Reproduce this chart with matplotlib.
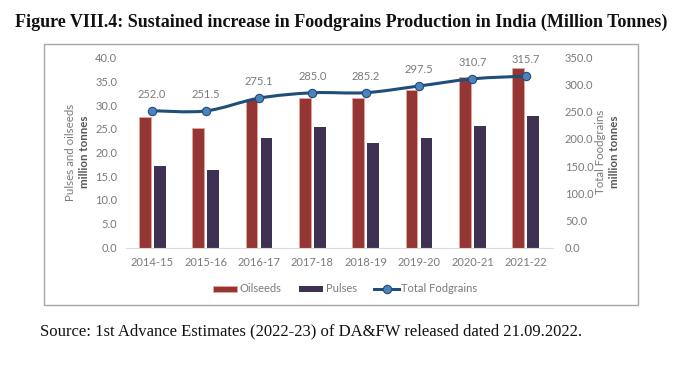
import matplotlib
matplotlib.use("Agg")
import matplotlib.pyplot as plt
import numpy as np
from matplotlib.path import Path
from matplotlib.patches import PathPatch, Rectangle
from matplotlib.lines import Line2D
from matplotlib.patches import Patch

# data
years = ["2014-15", "2015-16", "2016-17", "2017-18", "2018-19", "2019-20", "2020-21", "2021-22"]
oilseeds = [27.5, 25.2, 31.3, 31.5, 31.5, 33.2, 35.9, 37.7]
pulses = [17.2, 16.3, 23.1, 25.4, 22.1, 23.0, 25.5, 27.7]
foodgrains = [252.0, 251.5, 275.1, 285.0, 285.2, 297.5, 310.7, 315.7]
left_ticks = [0, 5, 10, 15, 20, 25, 30, 35, 40]
right_ticks = [0, 50, 100, 150, 200, 250, 300, 350]

RED = "#943634"
RED_EDGE = "#E8A49A"
PURPLE = "#3F3151"
LINE = "#1F4E79"
MARK = "#4F81BD"
GREY = "#7A7A7A"
FONT = "Lato"
FS = 8

W, H = 686, 366
fig = plt.figure(figsize=(W / 100, H / 100), dpi=100)

# chart border box
fig.patches.append(Rectangle((44 / W, 1 - 305 / H), (638 - 44) / W, (305 - 44) / H,
                             transform=fig.transFigure, fill=False,
                             edgecolor="#A6A6A6", linewidth=1.0))

ax = fig.add_axes([125.5 / W, 1 - 247.5 / H, (552.5 - 125.5) / W, (247.5 - 57.5) / H])
ax2 = ax.twinx()
ax.set_zorder(1)
ax2.set_zorder(2)
ax.patch.set_visible(False)
ax2.patch.set_visible(False)

x = np.arange(len(years))
bw = 0.22
off = 0.14
ax.bar(x - off, oilseeds, bw, color=RED, edgecolor=RED_EDGE, linewidth=0.6)
ax.bar(x + off, pulses, bw, color=PURPLE, linewidth=0)

ax.set_xlim(-0.5, len(years) - 0.5)
ax.set_ylim(0, 40)
ax.set_yticks(left_ticks)
ax.set_yticklabels([f"{v:.1f}" for v in left_ticks])
ax.set_xticks(x)
ax.set_xticklabels(years)

ax2.set_ylim(0, 350)
ax2.set_yticks(right_ticks)
ax2.set_yticklabels([f"{v:.1f}" for v in right_ticks])

for a in (ax, ax2):
    for s in ("top", "right", "left"):
        a.spines[s].set_visible(False)
    a.spines["bottom"].set_color("#D9D9D9")
    a.tick_params(length=0, labelsize=FS, labelcolor=GREY)
    for lab in a.get_xticklabels() + a.get_yticklabels():
        lab.set_fontfamily(FONT)
ax2.spines["bottom"].set_visible(False)
ax.tick_params(axis="y", pad=6)
ax.tick_params(axis="x", pad=7)
ax2.tick_params(axis="y", pad=9)

# smoothed line through the foodgrain values (cubic bezier, catmull-rom style)
pts = np.column_stack([x, foodgrains])
verts = [tuple(pts[0])]
codes = [Path.MOVETO]
t = 1 / 6
for i in range(len(pts) - 1):
    p0 = pts[i - 1] if i > 0 else pts[i]
    p1, p2 = pts[i], pts[i + 1]
    p3 = pts[i + 2] if i + 2 < len(pts) else pts[i + 1]
    c1 = p1 + (p2 - p0) * t
    c2 = p2 - (p3 - p1) * t
    verts += [tuple(c1), tuple(c2), tuple(p2)]
    codes += [Path.CURVE4] * 3
ax2.add_patch(PathPatch(Path(verts, codes), fill=False, edgecolor=LINE, linewidth=2.2))
ax2.plot(x, foodgrains, linestyle="none", marker="o", markersize=6,
         markerfacecolor=MARK, markeredgecolor=LINE, markeredgewidth=0.8)
for xi, v in zip(x, foodgrains):
    ax2.annotate(f"{v:.1f}", (xi, v), xytext=(0, 8), textcoords="offset points",
                 ha="center", va="bottom", fontsize=FS, color=GREY, fontfamily=FONT)

# axis titles
fig.text(71 / W, 1 - 152 / H, "Pulses and oilseeds", rotation=90, ha="center", va="center",
         fontsize=8.3, color=GREY, fontfamily=FONT)
fig.text(85 / W, 1 - 152 / H, "million tonnes", rotation=90, ha="center", va="center",
         fontsize=8.3, color="#555555", fontweight="bold", fontfamily=FONT)
fig.text(601 / W, 1 - 152 / H, "Total Foodgrains", rotation=90, ha="center", va="center",
         fontsize=8.3, color=GREY, fontfamily=FONT)
fig.text(615 / W, 1 - 152 / H, "million tonnes", rotation=90, ha="center", va="center",
         fontsize=8.3, color="#555555", fontweight="bold", fontfamily=FONT)

# legend
handles = [Patch(facecolor=RED, edgecolor=RED_EDGE, linewidth=0.6),
           Patch(facecolor=PURPLE),
           Line2D([], [], color=LINE, linewidth=2.2, marker="o", markersize=6,
                  markerfacecolor=MARK, markeredgecolor=LINE, markeredgewidth=0.8)]
fig.legend(handles, ["Oilseeds", "Pulses", "Total Fodgrains"], loc="center",
           bbox_to_anchor=(345 / W, 1 - 289 / H), ncol=3, frameon=False,
           prop={"family": FONT, "size": FS}, labelcolor=GREY,
           handlelength=2.2, handleheight=0.45, handletextpad=0.2, columnspacing=1.6)

# title and source
fig.text(341 / W, 1 - 22 / H,
         "Figure VIII.4: Sustained increase in Foodgrains Production in India (Million Tonnes)",
         ha="center", va="center", fontsize=13.0, fontweight="bold",
         fontfamily="Liberation Serif", color="#111111")
fig.text(40 / W, 1 - 331 / H,
         "Source: 1st Advance Estimates (2022-23) of DA&FW released dated 21.09.2022.",
         ha="left", va="center", fontsize=12, fontfamily="Liberation Serif", color="#111111")

fig.savefig("out.png", dpi=100)
